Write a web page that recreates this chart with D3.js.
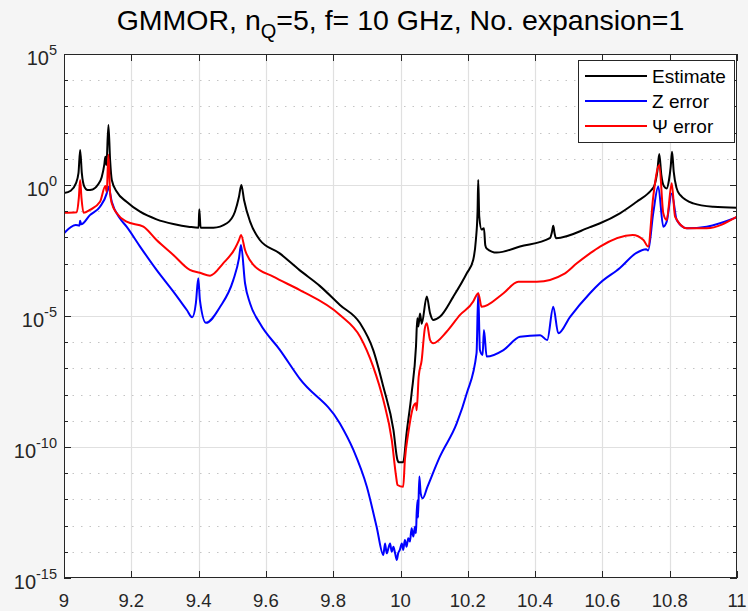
<!DOCTYPE html>
<html><head><meta charset="utf-8">
<script src="https://cdn.jsdelivr.net/npm/d3@7"></script>
<style>
body{margin:0;background:#f5f5f5;}
svg{display:block;font-family:"Liberation Sans",Arial,Helvetica,sans-serif;}
</style>
</head><body><svg id="c" width="748" height="611"></svg>
<script>
// ---- data ----
const xTickValues = [9, 9.2, 9.4, 9.6, 9.8, 10, 10.2, 10.4, 10.6, 10.8, 11];
const xTickLabels = ["9", "9.2", "9.4", "9.6", "9.8", "10", "10.2", "10.4", "10.6", "10.8", "11"];
const yTickExponents = [5, 0, -5, -10, -15];
const yTickLabels = ["5", "0", "-5", "-10", "-15"];
const seriesNames = ["Estimate", "Z error", "\u03A8 error"];

// Estimate: frequency (GHz) and log10(value)
const estFreq = [9.000,9.020,9.035,9.043,9.048,9.053,9.060,9.070,9.085,9.100,9.112,9.120,9.123,9.126,9.132,9.137,9.142,9.157,9.186,9.226,9.275,9.325,9.374,9.400,9.402,9.406,9.444,9.484,9.508,9.520,9.527,9.535,9.553,9.582,9.640,9.700,9.760,9.820,9.880,9.919,9.949,9.979,9.991,9.995,10.008,10.018,10.033,10.046,10.050,10.053,10.058,10.063,10.078,10.088,10.097,10.117,10.157,10.197,10.216,10.224,10.229,10.231,10.234,10.241,10.248,10.252,10.256,10.286,10.355,10.444,10.450,10.454,10.458,10.462,10.563,10.593,10.652,10.702,10.736,10.745,10.755,10.763,10.769,10.775,10.783,10.791,10.798,10.803,10.807,10.812,10.820,10.831,10.870,10.930,11.000];
const estLog10 = [-0.31,-0.22,0.05,0.45,1.34,0.45,-0.05,-0.19,-0.17,0.0,0.3,0.8,1.08,0.76,2.29,0.95,0.19,-0.26,-0.64,-1.02,-1.31,-1.49,-1.60,-1.63,-0.93,-1.63,-1.63,-1.46,-1.02,-0.45,0.00,-0.57,-1.40,-2.10,-2.60,-3.25,-3.85,-4.58,-5.28,-6.30,-7.70,-9.35,-10.50,-10.58,-10.58,-9.48,-7.95,-6.17,-5.09,-5.40,-4.90,-5.30,-4.26,-4.90,-5.15,-5.03,-4.26,-3.37,-2.86,-2.10,-1.00,0.19,-1.20,-1.70,-1.65,-2.30,-2.42,-2.58,-2.35,-2.03,-1.80,-1.56,-1.85,-2.03,-1.61,-1.46,-1.08,-0.64,-0.32,-0.20,0.00,0.50,1.18,0.40,-0.05,-0.13,0.20,0.70,1.27,0.50,-0.10,-0.38,-0.70,-0.83,-0.87];

// Z error
const zFreq = [9.000,9.035,9.046,9.048,9.051,9.077,9.107,9.127,9.132,9.142,9.166,9.186,9.226,9.275,9.325,9.365,9.381,9.392,9.399,9.404,9.422,9.464,9.503,9.520,9.526,9.538,9.553,9.582,9.642,9.701,9.820,9.860,9.900,9.929,9.949,9.954,9.959,9.964,9.969,9.974,9.979,9.984,9.989,9.993,9.998,10.004,10.008,10.013,10.018,10.023,10.028,10.033,10.038,10.043,10.046,10.048,10.051,10.052,10.056,10.060,10.066,10.080,10.117,10.167,10.197,10.226,10.231,10.236,10.244,10.248,10.256,10.306,10.355,10.415,10.436,10.454,10.469,10.504,10.563,10.593,10.652,10.700,10.730,10.736,10.751,10.766,10.781,10.791,10.806,10.821,10.851,10.910,11.000];
const zLog10 = [-1.84,-1.53,-1.55,-1.36,-1.50,-1.15,-0.83,-0.32,-0.07,-0.64,-1.27,-1.59,-2.35,-3.24,-4.07,-4.77,-5.05,-4.50,-3.56,-4.40,-5.26,-4.65,-3.63,-2.80,-2.29,-3.75,-4.52,-5.28,-6.30,-7.40,-9.10,-10.11,-11.52,-13.04,-14.12,-13.68,-14.06,-13.87,-13.68,-14.00,-13.81,-14.06,-14.31,-14.06,-13.93,-13.68,-13.93,-13.55,-13.81,-13.48,-13.61,-13.10,-13.42,-13.04,-13.29,-12.53,-12.02,-12.70,-11.13,-11.77,-11.96,-11.52,-10.37,-9.10,-7.95,-6.42,-4.13,-6.30,-6.49,-5.53,-6.55,-6.30,-5.79,-5.73,-5.92,-4.65,-5.66,-5.03,-4.13,-3.74,-3.17,-2.60,-2.45,-2.50,-1.08,-0.06,-1.59,-1.40,-0.32,-1.34,-1.65,-1.59,-1.23];

// Psi error
const psiFreq = [9.000,9.038,9.044,9.048,9.052,9.058,9.077,9.107,9.123,9.127,9.132,9.137,9.142,9.157,9.186,9.236,9.275,9.325,9.374,9.404,9.434,9.473,9.508,9.520,9.526,9.538,9.563,9.622,9.701,9.820,9.880,9.919,9.949,9.974,9.987,9.991,10.008,10.013,10.023,10.038,10.046,10.048,10.054,10.063,10.072,10.078,10.088,10.097,10.137,10.177,10.216,10.226,10.231,10.241,10.306,10.350,10.405,10.489,10.524,10.563,10.593,10.690,10.722,10.736,10.751,10.769,10.781,10.791,10.806,10.816,10.851,10.910,11.000];
const psiLog10 = [-1.06,-1.04,-0.50,0.19,-0.50,-1.06,-0.95,-0.64,-0.04,-0.26,1.15,-0.30,-0.70,-1.08,-1.40,-1.59,-2.10,-2.67,-3.24,-3.35,-3.46,-2.99,-2.42,-2.10,-1.91,-2.48,-3.05,-3.50,-4.01,-4.96,-5.79,-6.94,-8.21,-9.73,-11.13,-11.45,-11.52,-10.50,-9.48,-8.46,-8.33,-8.60,-7.32,-6.68,-5.50,-5.28,-5.92,-6.04,-5.60,-4.96,-4.45,-4.20,-4.13,-4.65,-4.13,-3.69,-3.69,-3.37,-2.99,-2.61,-2.35,-1.91,-2.10,-2.35,-0.45,0.76,-1.08,-1.34,0.07,-1.21,-1.65,-1.65,-1.21];

const seriesColors = ["#000000", "#0000ff", "#ff0000"];

// ---- layout ----
const svg = d3.select("#c");
const L = 64, R = 737, T = 54, B = 578;
const x = d3.scaleLinear().domain([9, 11]).range([L, R]);
const y = d3.scaleLog().domain([1e-15, 1e5]).range([B, T]);

svg.append("rect").attr("x", L).attr("y", T).attr("width", R - L).attr("height", B - T).attr("fill", "#fff");

// grid
const g = svg.append("g");
const decades = d3.range(-14, 5).filter(e => e % 5 !== 0);
g.selectAll("line.ymin").data(decades).join("line")
  .attr("x1", L).attr("x2", R)
  .attr("y1", d => Math.round(y(Math.pow(10, d))) + 0.5).attr("y2", d => Math.round(y(Math.pow(10, d))) + 0.5)
  .attr("stroke", "#c4c4c4").attr("stroke-dasharray", "1.5,7").attr("stroke-width", 1);
g.selectAll("line.xg").data(xTickValues.slice(1, -1)).join("line")
  .attr("y1", T).attr("y2", B)
  .attr("x1", d => Math.round(x(d)) + 0.5).attr("x2", d => Math.round(x(d)) + 0.5)
  .attr("stroke", "#e0e0e0").attr("stroke-width", 1.2);
g.selectAll("line.yg").data(yTickExponents.slice(1, -1)).join("line")
  .attr("x1", L).attr("x2", R)
  .attr("y1", d => Math.round(y(Math.pow(10, d))) + 0.5).attr("y2", d => Math.round(y(Math.pow(10, d))) + 0.5)
  .attr("stroke", "#e0e0e0").attr("stroke-width", 1.2);

// lines
const line = d3.line().curve(d3.curveMonotoneX).x(d => x(d[0])).y(d => y(Math.pow(10, d[1])));
const series = [
  d3.zip(estFreq, estLog10),
  d3.zip(zFreq, zLog10),
  d3.zip(psiFreq, psiLog10)
];
svg.append("clipPath").attr("id", "cp").append("rect")
  .attr("x", L).attr("y", T).attr("width", R - L).attr("height", B - T);
series.forEach((s, i) => {
  svg.append("path").datum(s).attr("d", line)
    .attr("fill", "none").attr("stroke", seriesColors[i]).attr("stroke-width", 2)
    .attr("stroke-linejoin", "round").attr("clip-path", "url(#cp)");
});

// axes
const axisCol = "#262626";
const ax = svg.append("g").attr("stroke", axisCol).attr("fill", "none");
ax.append("rect").attr("x", L + 0.5).attr("y", T + 0.5).attr("width", R - L - 1).attr("height", B - T - 1).attr("stroke-width", 1);
xTickValues.forEach(v => {
  const px = Math.round(x(v)) + 0.5;
  ax.append("line").attr("x1", px).attr("x2", px).attr("y1", B).attr("y2", B - 7);
  ax.append("line").attr("x1", px).attr("x2", px).attr("y1", T).attr("y2", T + 7);
});
d3.range(-15, 6).forEach(e => {
  const py = Math.round(y(Math.pow(10, e))) + 0.5;
  const len = e % 5 === 0 ? 7 : 4;
  ax.append("line").attr("x1", L).attr("x2", L + len).attr("y1", py).attr("y2", py);
  ax.append("line").attr("x1", R).attr("x2", R - len).attr("y1", py).attr("y2", py);
});

// x tick labels
svg.append("g").selectAll("text").data(xTickValues).join("text")
  .attr("x", d => x(d)).attr("y", 607)
  .attr("text-anchor", "middle").attr("font-size", 18.5).attr("fill", axisCol)
  .text((d, i) => xTickLabels[i]);

// y tick labels
yTickExponents.forEach((e, i) => {
  const t = svg.append("text").attr("x", 57).attr("y", y(Math.pow(10, e)) + 11)
    .attr("text-anchor", "end").attr("font-size", 20).attr("fill", axisCol);
  t.append("tspan").text("10");
  t.append("tspan").attr("font-size", 14.5).attr("dy", -10).text(yTickLabels[i]);
});

// title
const title = svg.append("text").attr("x", (L + R) / 2).attr("y", 30)
  .attr("text-anchor", "middle").attr("font-size", 28.5).attr("fill", "#000");
title.append("tspan").text("GMMOR, n");
title.append("tspan").attr("font-size", 20).attr("dy", 8).text("Q");
title.append("tspan").attr("dy", -8).text("=5, f= 10 GHz, No. expansion=1");

// legend
const lg = svg.append("g");
lg.append("rect").attr("x", 578.5).attr("y", 60.5).attr("width", 156).attr("height", 82)
  .attr("fill", "#fff").attr("stroke", axisCol).attr("stroke-width", 1);
const lgY = [76, 101, 126];
seriesNames.forEach((n, i) => {
  lg.append("line").attr("x1", 585).attr("x2", 647).attr("y1", lgY[i]).attr("y2", lgY[i])
    .attr("stroke", seriesColors[i]).attr("stroke-width", 2);
  lg.append("text").attr("x", 652).attr("y", lgY[i] + 6.5).attr("font-size", 19).attr("fill", "#000").text(n);
});
</script></body></html>
